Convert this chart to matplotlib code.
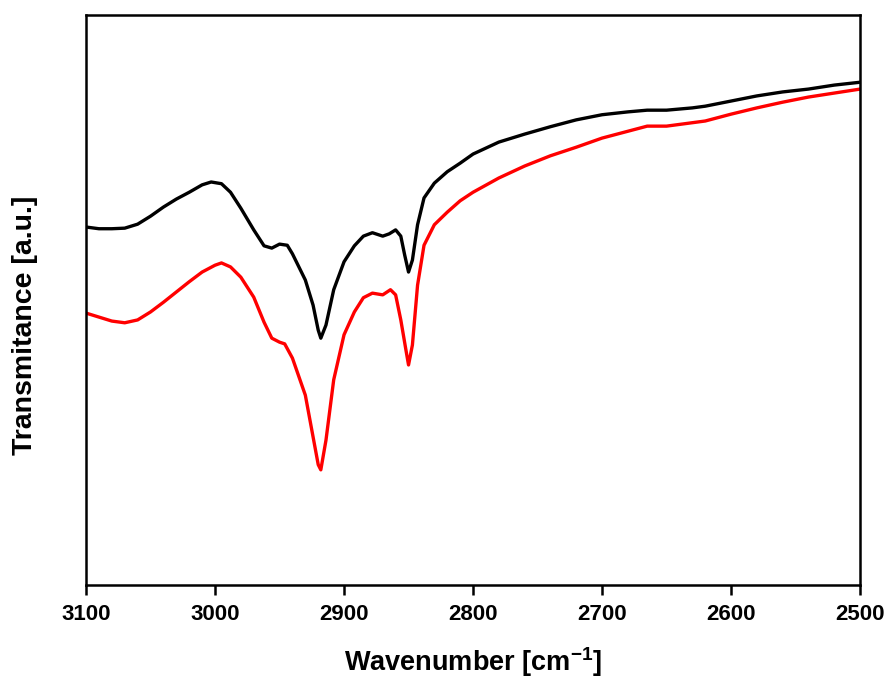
import numpy as np
import matplotlib
matplotlib.use('Agg')
import matplotlib.pyplot as plt

plt.rcParams['font.family'] = 'Liberation Sans'
plt.rcParams['mathtext.fontset'] = 'custom'
plt.rcParams['mathtext.rm'] = 'Liberation Sans:bold'
plt.rcParams['mathtext.bf'] = 'Liberation Sans:bold'

# Wavenumbers (cm-1) and transmittance (a.u.)
wn_black = [3100, 3090, 3080, 3070, 3060, 3050, 3040, 3030, 3020, 3010, 3003, 2995, 2988, 2980,
            2970, 2962, 2956, 2950, 2944, 2940, 2930, 2924, 2920, 2918, 2914, 2908, 2900, 2892,
            2885, 2878, 2870, 2865, 2860, 2856, 2853, 2850, 2847, 2843, 2838, 2830, 2820, 2810,
            2800, 2780, 2760, 2740, 2720, 2700, 2680, 2665, 2650, 2630, 2620, 2600, 2580, 2560,
            2540, 2520, 2500]
t_black = [62.8, 62.5, 62.5, 62.6, 63.3, 64.7, 66.3, 67.7, 68.9, 70.2, 70.7, 70.4, 68.9, 66.1,
           62.3, 59.5, 59.1, 59.8, 59.6, 58.1, 53.5, 49.1, 44.7, 43.3, 45.6, 51.8, 56.7, 59.5,
           61.2, 61.8, 61.2, 61.6, 62.3, 61.2, 57.9, 54.9, 57.0, 63.2, 67.9, 70.5, 72.5, 74.0,
           75.6, 77.7, 79.1, 80.4, 81.6, 82.5, 83.0, 83.3, 83.3, 83.7, 84.0, 84.9, 85.8, 86.5,
           87.0, 87.7, 88.2]

wn_red = [3100, 3090, 3080, 3070, 3060, 3050, 3040, 3030, 3020, 3010, 3000, 2995, 2988, 2980,
          2970, 2962, 2956, 2950, 2946, 2940, 2930, 2925, 2920, 2918, 2914, 2908, 2900, 2892,
          2885, 2878, 2870, 2864, 2860, 2856, 2852, 2850, 2847, 2843, 2838, 2830, 2820, 2810,
          2800, 2780, 2760, 2740, 2720, 2700, 2680, 2665, 2650, 2630, 2620, 2600, 2580, 2560,
          2540, 2520, 2500]
t_red = [47.7, 47.0, 46.3, 46.0, 46.5, 47.9, 49.6, 51.4, 53.2, 54.9, 56.1, 56.5, 55.8, 54.0,
         50.5, 46.1, 43.3, 42.6, 42.3, 39.8, 33.3, 27.2, 21.1, 20.2, 25.4, 36.0, 43.9, 47.9,
         50.4, 51.2, 50.9, 51.8, 50.9, 46.5, 41.2, 38.6, 42.1, 52.6, 59.6, 63.2, 65.4, 67.4,
         68.9, 71.4, 73.5, 75.3, 76.8, 78.4, 79.6, 80.5, 80.5, 81.1, 81.4, 82.6, 83.7, 84.7,
         85.6, 86.3, 87.0]

xticks = [3100, 3000, 2900, 2800, 2700, 2600, 2500]

fig = plt.figure(figsize=(8.86, 6.78), dpi=100)
ax = fig.add_axes([0.0971, 0.1372, 0.8736, 0.8407])

ax.plot(wn_red, t_red, color='#ff0000', lw=2.4, solid_joinstyle='round')
ax.plot(wn_black, t_black, color='black', lw=2.4, solid_joinstyle='round')

ax.set_xlim(3100, 2500)
ax.set_ylim(0, 100)
ax.set_xticks(xticks)
ax.set_yticks([])
ax.tick_params(axis='x', direction='out', length=7, width=1.8, labelsize=16, pad=7)
for lbl in ax.get_xticklabels():
    lbl.set_fontweight('bold')
for sp in ax.spines.values():
    sp.set_linewidth(1.8)

ax.set_xlabel(r'Wavenumber [cm$^{-1}$]', fontsize=19.5, fontweight='bold', labelpad=14)
ax.set_ylabel('Transmitance [a.u.]', fontsize=20.5, fontweight='bold', va='center')
ax.yaxis.set_label_coords(-0.079, 0.455)

fig.savefig('out.png', dpi=100)
